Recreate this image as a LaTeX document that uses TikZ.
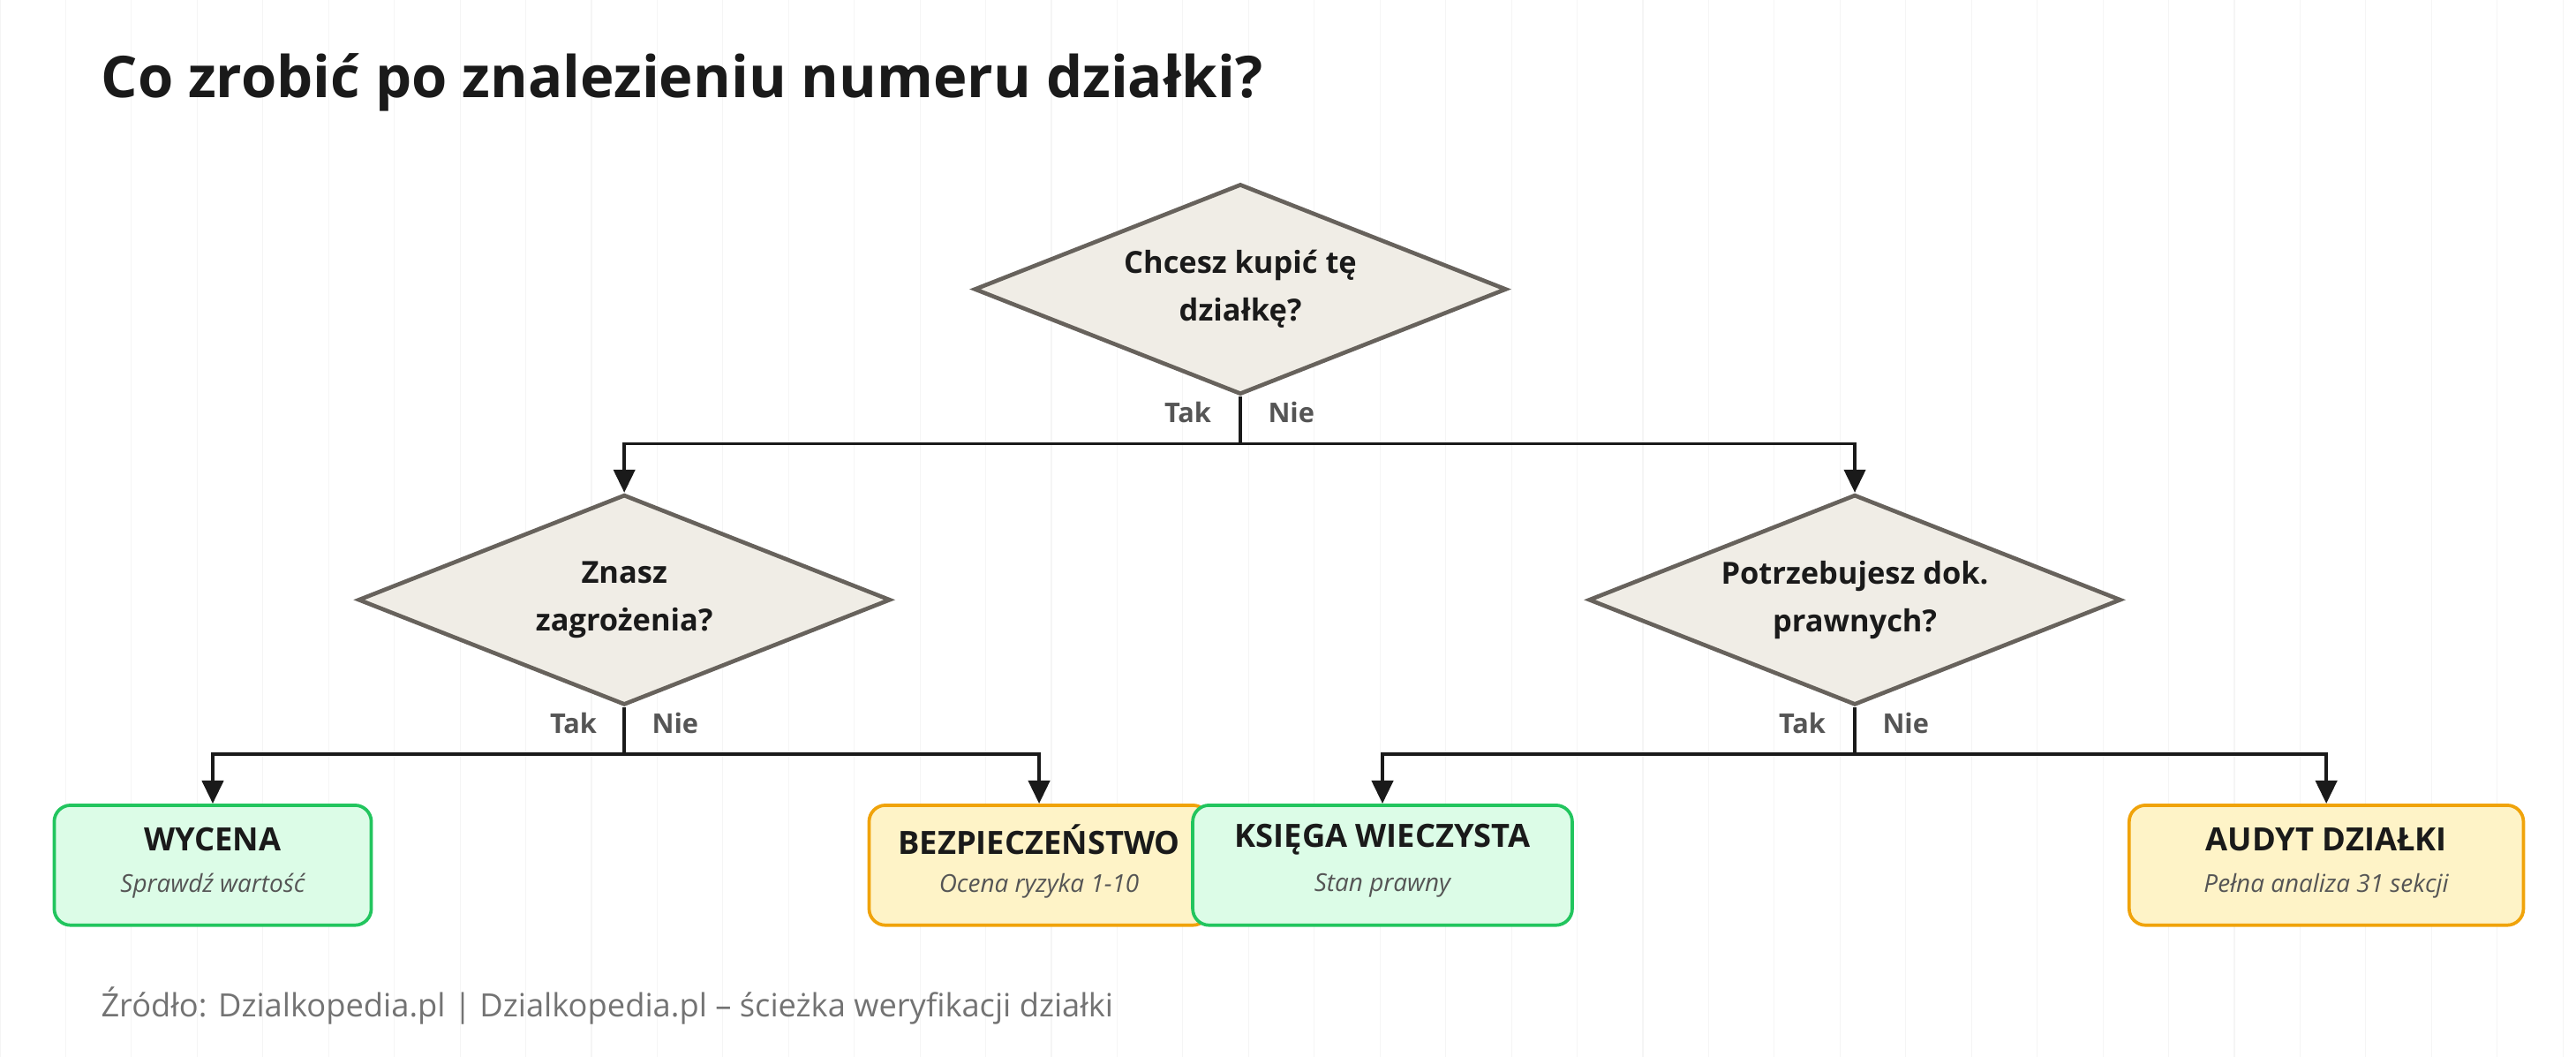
\documentclass[tikz,border=0pt]{standalone}
\usepackage{fontspec}
\setmainfont{Open Sans}
\usetikzlibrary{shapes.geometric,arrows.meta}
\definecolor{dfill}{HTML}{F0EDE6}
\definecolor{dline}{HTML}{67625C}
\definecolor{gfill}{HTML}{DCFCE7}
\definecolor{gline}{HTML}{22C55E}
\definecolor{yfill}{HTML}{FEF3C7}
\definecolor{yline}{HTML}{F0A30A}
\definecolor{ink}{HTML}{1A1A1A}
\definecolor{lbl}{HTML}{555555}
\tikzset{
 dec/.style={diamond,draw=dline,fill=dfill,line width=2.5pt,minimum width=324pt,minimum height=128pt,aspect=2.53,inner sep=0pt,align=center,font=\fontsize{18.5}{29}\selectfont\bfseries,text=ink},
 gbox/.style={draw=gline,fill=gfill,line width=2pt,rounded corners=10pt},
 ybox/.style={draw=yline,fill=yfill,line width=2pt,rounded corners=10pt},
 btitle/.style={font=\fontsize{19.5}{22}\selectfont\bfseries,text=ink},
 bsub/.style={font=\fontsize{15}{17}\selectfont\itshape,text=lbl},
 yn/.style={font=\fontsize{16.5}{18}\selectfont\bfseries,text=lbl},
 conn/.style={line width=2pt,draw=ink},
 arr/.style={conn,-{Triangle[length=14pt,width=13pt]}}
}
\begin{document}
\begin{tikzpicture}[x=1pt,y=-1pt]
\fill[white] (0,0) rectangle (1568,643);
\useasboundingbox (0,0) rectangle (1568,643);
\draw[black!4,line width=0.6pt,step=40] (0,0) grid (1568,643);
\node[anchor=west,font=\fontsize{35}{40}\selectfont\bfseries,text=ink] (title) at (58,50) {Co zrobić po znalezieniu numeru działki?};
\node[dec] (d1) at (755,176) {Chcesz kupić tę\\działkę?};
\node[dec] (d2) at (380,365) {Znasz\\zagrożenia?};
\node[dec] (d3) at (1129,365) {Potrzebujesz dok.\\prawnych?};
% boxes
\node[gbox,minimum width=193pt,minimum height=73pt] (b1) at (129.5,526.5) {};
\node[ybox,minimum width=207pt,minimum height=73pt] (b2) at (632.5,526.5) {};
\node[gbox,minimum width=231pt,minimum height=73pt] (b3) at (841.5,526.5) {};
\node[ybox,minimum width=240pt,minimum height=73pt] (b4) at (1416,526.5) {};
\node[btitle] (t1) at (129.5,511) {WYCENA};
\node[bsub] (s1) at (129.5,539) {Sprawdź wartość};
\node[btitle] (t2) at (632.5,511) {BEZPIECZEŃSTWO};
\node[bsub] (s2) at (632.5,539) {Ocena ryzyka 1-10};
\node[btitle] (t3) at (841.5,511) {KSIĘGA WIECZYSTA};
\node[bsub] (s3) at (841.5,539) {Stan prawny};
\node[btitle] (t4) at (1416,511) {AUDYT DZIAŁKI};
\node[bsub] (s4) at (1416,539) {Pełna analiza 31 sekcji};
% connectors
\coordinate (j1) at (755,270);
\draw[conn] (d1.south) -- (j1);
\draw[arr] (j1) -| (d2.north);
\draw[arr] (j1) -| (d3.north);
\coordinate (j2) at (380,459);
\draw[conn] (d2.south) -- (j2);
\draw[arr] (j2) -| (b1.north);
\draw[arr] (j2) -| (b2.north);
\coordinate (j3) at (1129,459);
\draw[conn] (d3.south) -- (j3);
\draw[arr] (j3) -| (b3.north);
\draw[arr] (j3) -| (b4.north);
\node[yn] (y1) at (723,251) {Tak};
\node[yn] (n1) at (786,251) {Nie};
\node[yn] (y2) at (349,440) {Tak};
\node[yn] (n2) at (411,440) {Nie};
\node[yn] (y3) at (1097,440) {Tak};
\node[yn] (n3) at (1160,440) {Nie};
\node[anchor=west,font=\fontsize{19.5}{22}\selectfont,text=black!55] (foot) at (58,612) {Źródło: Dzialkopedia.pl | Dzialkopedia.pl – ścieżka weryfikacji działki};
\end{tikzpicture}
\end{document}
